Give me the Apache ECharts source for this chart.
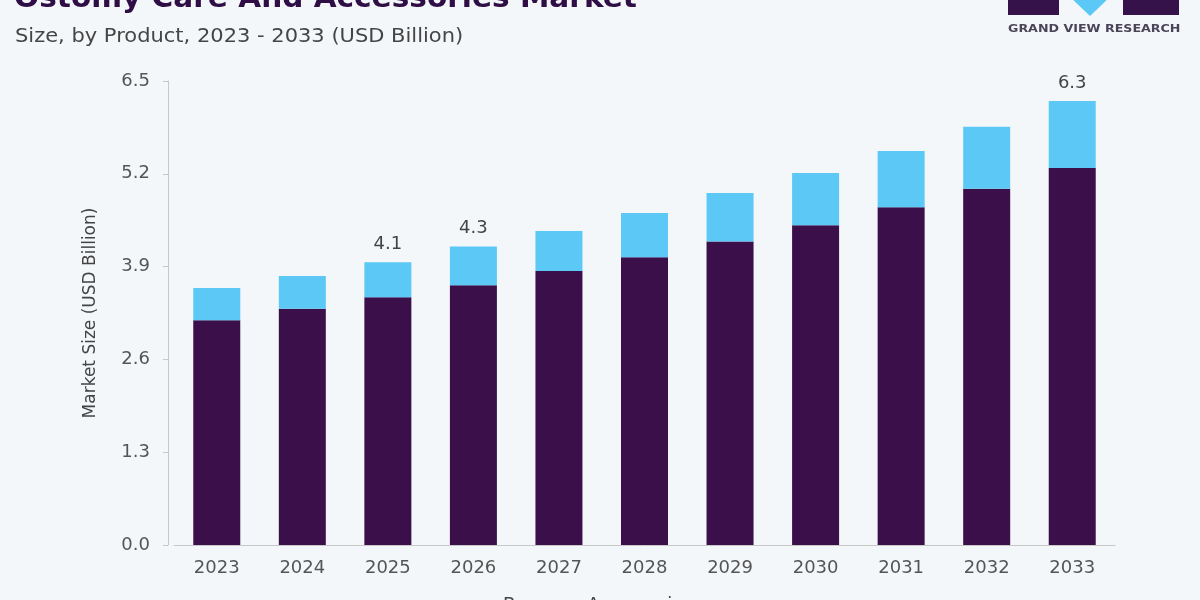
<!DOCTYPE html>
<html>
<head>
<meta charset="utf-8">
<script src="https://cdn.jsdelivr.net/npm/echarts@6/dist/echarts.min.js"></script>
<style>
html,body{margin:0;padding:0;background:#f4f7fa;}
#c{width:1200px;height:600px;}
</style>
</head>
<body>
<div id="c"></div>
<script>
const years = ['2023','2024','2025','2026','2027','2028','2029','2030','2031','2032','2033'];
const bags = [3.15, 3.31, 3.47, 3.64, 3.84, 4.03, 4.25, 4.48, 4.73, 4.99, 5.28];
const accessories = [0.45, 0.46, 0.49, 0.54, 0.56, 0.62, 0.68, 0.73, 0.79, 0.87, 0.94];
const totalLabels = ['', '', '4.1', '4.3', '', '', '', '', '', '', '6.3'];

const font = 'DejaVu Sans, Verdana, sans-serif';
const chart = echarts.init(document.getElementById('c'));
chart.setOption({
  backgroundColor: '#f4f7fa',
  animation: false,
  graphic: [
    {type: 'text', x: 14, y: 14, style: {text: 'Ostomy Care And Accessories Market', font: 'bold 29px ' + font, fill: '#2f0d45', textVerticalAlign: 'bottom'}, scaleX: 1.02},
    {type: 'text', x: 15, y: 28, style: {text: 'Size, by Product, 2023 - 2033 (USD Billion)', font: '19px ' + font, fill: '#454545'}, scaleX: 1.105},
    {type: 'rect', shape: {x: 1008, y: -5, width: 51, height: 20}, style: {fill: '#35124a'}},
    {type: 'polygon', shape: {points: [[1068, -5], [1112, -5], [1090, 16]]}, style: {fill: '#5bc8f5'}},
    {type: 'rect', shape: {x: 1123, y: -5, width: 56, height: 20}, style: {fill: '#35124a'}},
    {type: 'text', x: 1008, y: 24, style: {text: 'GRAND VIEW RESEARCH', font: 'bold 11px ' + font, fill: '#4a4458'}, scaleX: 1.15}
  ],
  legend: {
    top: 591, left: 471,
    icon: 'circle', itemWidth: 34, itemHeight: 10, itemGap: 13,
    textStyle: {fontFamily: font, fontSize: 18, color: '#444'},
    data: ['Bags', 'Accessories']
  },
  grid: {left: 174, right: 85, top: 81, bottom: 55},
  xAxis: {
    type: 'category', data: years,
    axisLine: {lineStyle: {color: '#c8c8c8', width: 1}},
    axisTick: {show: false},
    axisLabel: {fontFamily: font, fontSize: 18, color: '#555', margin: 14}
  },
  yAxis: {
    type: 'value', min: 0, max: 6.5, interval: 1.3, offset: 6,
    name: 'Market Size (USD Billion)', nameLocation: 'middle', nameGap: 69, nameRotate: 90,
    nameTextStyle: {fontFamily: font, fontSize: 17, color: '#444'},
    axisLine: {show: true, lineStyle: {color: '#c8c8c8'}},
    axisTick: {show: true, length: 5, lineStyle: {color: '#c8c8c8'}},
    splitLine: {show: false},
    axisLabel: {fontFamily: font, fontSize: 18, color: '#555', margin: 18,
      formatter: v => v.toFixed(1)}
  },
  series: [{
    name: 'Bags', type: 'bar', stack: 'a', data: bags, barWidth: 47,
    itemStyle: {color: '#3a0f4a'}
  }, {
    name: 'Accessories', type: 'bar', stack: 'a', data: accessories, barWidth: 47,
    itemStyle: {color: '#5bc8f5'},
    label: {show: true, position: 'top', distance: 9,
      fontFamily: font, fontSize: 18, color: '#444',
      formatter: p => totalLabels[p.dataIndex]}
  }]
});
</script>
</body>
</html>
